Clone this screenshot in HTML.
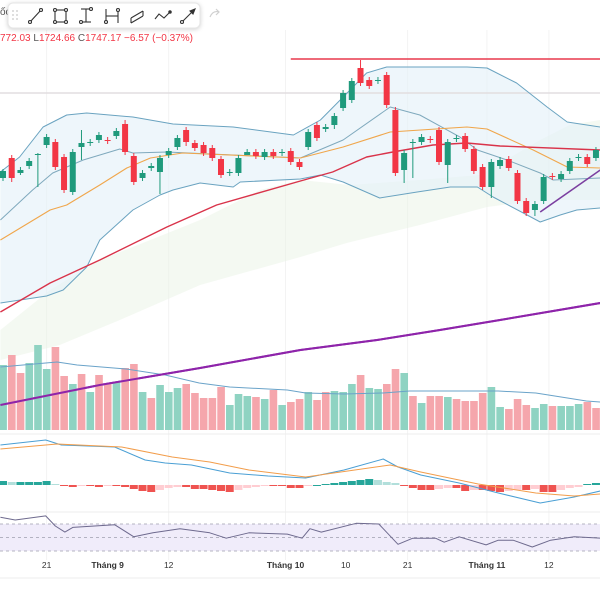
<!DOCTYPE html>
<html><head><meta charset="utf-8">
<style>
html,body{margin:0;padding:0;background:#fff;}
body{width:600px;height:600px;overflow:hidden;position:relative;font-family:"Liberation Sans",sans-serif;}
svg{position:absolute;left:0;top:0;}
</style></head>
<body>
<svg id="chart" width="600" height="600" viewBox="0 0 600 600">
<g id="grid"></g>
<g id="main"></g>
<g id="vol"></g>
<g id="macd"></g>
<g id="rsi"></g>
<g id="axis"></g>
<text x="0" y="15" font-size="10" fill="#555">ốc</text>
<text x="0" y="41" font-size="10" fill="#f23645">772.03 <tspan fill="#555">L</tspan>1724.66 <tspan fill="#555">C</tspan>1747.17 −6.57 (−0.37%)</text>
<g>
<rect x="8" y="3" width="192" height="25" rx="5" fill="#fff" stroke="#e6e6e6" style="filter:drop-shadow(0 1px 2px rgba(0,0,0,.18))"/>
<g fill="#c8c8c8"><circle cx="13" cy="11" r="0.9"/><circle cx="17" cy="11" r="0.9"/><circle cx="13" cy="15" r="0.9"/><circle cx="17" cy="15" r="0.9"/><circle cx="13" cy="19" r="0.9"/><circle cx="17" cy="19" r="0.9"/></g>
<g stroke="#333" stroke-width="1.1" fill="none">
<g><line x1="30" y1="22" x2="41" y2="10"/><circle cx="30" cy="22" r="1.5" fill="#fff"/><circle cx="41" cy="10" r="1.5" fill="#fff"/></g>
<g><rect x="55" y="10" width="11" height="12"/><circle cx="55" cy="10" r="1.5" fill="#fff"/><circle cx="66" cy="10" r="1.5" fill="#fff"/><circle cx="55" cy="22" r="1.5" fill="#fff"/><circle cx="66" cy="22" r="1.5" fill="#fff"/></g>
<g><line x1="86" y1="9" x2="86" y2="22"/><line x1="81" y1="9" x2="91" y2="9"/><line x1="81" y1="22" x2="91" y2="22"/><circle cx="81" cy="22" r="1.5" fill="#fff"/><circle cx="91" cy="9" r="1.5" fill="#fff"/></g>
<g><line x1="106" y1="9" x2="106" y2="23"/><line x1="118" y1="9" x2="118" y2="23"/><line x1="106" y1="16" x2="118" y2="16"/><circle cx="106" cy="22" r="1.5" fill="#fff"/><circle cx="118" cy="10" r="1.5" fill="#fff"/></g>
<g><path d="M131 18 L143 11 M131 23 L143 16 M131 18 L131 23 M143 11 L143 16"/></g>
<g><path d="M155 19 L159 14 L164 18 L170 12"/><circle cx="170" cy="12" r="1.2" fill="#333"/></g>
<g><line x1="182" y1="22" x2="194" y2="10"/><circle cx="182" cy="22" r="1.5" fill="#fff"/><path d="M190 11 L195 9 L193 14 Z" fill="#333"/></g>
</g>
</g>
<path d="M210 17 Q213 10 219 12 M216 9 L219 12 L216 15" stroke="#d0d0d0" stroke-width="1.2" fill="none"/>
</svg>
<script>
// ---- price data (OHLC) ----
const opens  = [1722,1742,1727,1734,1745,1755,1758,1743,1708,1753,1757,1760,1760,1764,1776,1744,1722,1732,1728,1745,1753,1770,1757,1755,1752,1741,1727,1727,1745,1748,1743,1748,1747,1749,1738,1753,1775,1771,1775,1792,1800,1832,1820,1819,1825,1790,1730,1757,1758,1761,1770,1735,1761,1764,1751,1733,1713,1734,1741,1727,1699,1690,1699,1724,1721,1729,1742,1743,1742];
const closes = [1729,1722,1730,1739,1746,1763,1733,1710,1748,1757,1758,1765,1759,1769,1748,1718,1727,1734,1742,1749,1762,1758,1752,1747,1742,1725,1728,1742,1748,1744,1748,1744,1748,1738,1733,1768,1762,1773,1784,1807,1819,1817,1814,1820,1795,1727,1747,1758,1763,1760,1738,1758,1762,1751,1729,1713,1738,1740,1732,1699,1687,1696,1723,1723,1726,1739,1743,1736,1750];
const highs  = [1731,1745,1733,1742,1747,1766,1761,1746,1751,1770,1761,1768,1763,1772,1780,1747,1730,1737,1745,1752,1765,1773,1760,1758,1755,1744,1731,1745,1751,1751,1751,1751,1751,1752,1741,1771,1778,1776,1787,1810,1822,1840,1823,1823,1828,1793,1750,1761,1766,1764,1773,1761,1765,1767,1754,1736,1741,1743,1744,1730,1702,1699,1726,1727,1729,1742,1746,1746,1753];
const lows   = [1719,1718,1725,1731,1713,1752,1730,1707,1705,1740,1754,1757,1756,1761,1745,1715,1719,1729,1706,1742,1750,1754,1749,1744,1739,1722,1724,1724,1745,1741,1740,1741,1744,1735,1730,1750,1759,1768,1771,1789,1797,1814,1811,1816,1792,1724,1717,1722,1755,1757,1735,1717,1758,1748,1726,1710,1702,1731,1729,1696,1684,1684,1696,1720,1718,1726,1739,1733,1739];
// ---- volume ----
const volumes = [65,75,57,67,85,61,83,54,46,56,38,55,47,48,62,66,38,32,45,38,42,46,37,32,32,43,25,36,34,33,31,40,25,28,31,38,30,38,39,38,46,55,42,41,46,61,57,34,27,34,34,33,31,29,29,37,43,23,21,31,25,22,26,24,24,24,26,28,22];
const volUp = [1,0,0,1,1,1,0,0,1,0,1,0,0,1,0,0,1,0,1,1,1,0,0,0,0,0,1,1,1,0,1,0,1,0,0,1,0,0,1,1,1,0,1,1,0,0,1,0,1,0,0,1,0,0,0,0,1,1,0,0,0,1,1,0,1,1,1,0,0];
const volMaIdx = [-0.3,6.2,8.5,14.1,18.6,22.5,26,32.6,34.7,39.1,43.6,46.6,56.8,61.1,66.9,68.5];
const volMaVal = [63,68,65,61,55,47,43,40,37,36,37,39,39,37,29,28];
// ---- indicator lines (index, value) ----
const bbUpIdx = [-0.3,1.9,4.6,7.3,9.6,14.9,19.5,26.4,33.3,36.4,39.8,41.7,44,53.2,55.5,58.9,62.4,64.7,68.5];
const bbUpVal = [1728,1743,1773,1785,1787,1783,1776,1773,1765,1780,1810,1827,1833,1833,1832,1817,1793,1778,1773];
const bbLoIdx = [-0.3,5,6.9,9.6,11.1,14.9,18,19.5,22.6,26.4,27.2,34.1,36.4,39,43.2,47.5,51.3,54.4,56.2,60.1,61.6,63.9,65.8,68.5];
const bbLoVal = [1597,1604,1610,1633,1660,1690,1705,1710,1717,1713,1718,1721,1725,1718,1702,1708,1713,1713,1703,1685,1678,1685,1690,1692];
const midIdx = [-0.3,3.4,5.7,9.2,13.4,14.9,18.8,34.1,39,44.4,47.8,52.4,54.4,57.8,61.6,63.1,68.5];
const midVal = [1680,1710,1727,1740,1751,1747,1748,1742,1760,1793,1785,1763,1750,1740,1727,1720,1722];
const maIdx = [-0.3,5.4,7.3,11.1,14.2,16.9,20.6,34.1,39,44.4,53.2,55.5,60.8,64.7,68.5];
const maVal = [1660,1690,1695,1715,1732,1742,1747,1742,1753,1768,1773,1771,1750,1733,1732];
const emaIdx = [-0.3,5.4,11.1,18.8,24.5,34.1,37.8,41.7,44.7,49.3,53.2,57,68.5];
const emaVal = [1588,1617,1640,1673,1695,1719,1728,1743,1748,1755,1757,1754,1750];
const longIdx = [-0.3,11.1,22.6,34.1,42.9,50.1,57,68.5];
const longVal = [1495,1515,1532,1550,1560,1570,1580,1597];
const cloudTopIdx = [-0.3,5.4,11.1,16.9,22.6,29.5,34.1,39.8,47.8,54.7,61.6,65,68.5];
const cloudTopVal = [1570,1610,1640,1660,1680,1710,1720,1715,1720,1725,1760,1775,1780];
const cloudBotIdx = [68.5,61.6,55.5,47.8,39.4,34.1,22.6,13.4,6.5,-0.3];
const cloudBotVal = [1700,1700,1693,1675,1657,1643,1615,1580,1555,1540];
const resistance = 1841, grayLevel = 1807;
const trendIdx = [61.6,68.5], trendVal = [1688,1730];
// ---- MACD ----
const macdIdx = [-0.3,4.9,6.7,12.8,16.3,18.6,21.6,26,30.4,34.7,39.1,43.6,45.3,47.9,52.3,56.8,61.6,65.5,68.5];
const macdVal = [40,45,40,38,25,22,20,12,9,7,15,26,18,10,2,-8,-18,-12,-6];
const sigIdx = [-0.3,6.2,13.6,19.4,23.7,28.2,34.7,44.4,47.9,54.5,61.1,65.5,68.5];
const sigVal = [36,41,38,28,23,15,8,20,13,1,-8,-11,-9];
const hist = [4,3,3,3,3,4,1,-1,-2,-1,-1,-2,-1,-1,-2,-4,-6,-7,-5,-3,-2,-2,-4,-4,-5,-6,-7,-5,-3,-2,-1,-1,-1,-3,-3,-1,0,1,2,3,4,5,6,5,3,2,-1,-3,-5,-5,-4,-3,-3,-6,-5,-5,-6,-7,-6,-5,-5,-4,-7,-7,-5,-3,-2,1,2];
// ---- RSI ----
const rsiIdx = [-0.3,1.4,4.9,6,7.1,8,12.8,15,17.2,20.3,23.7,25.6,28.2,32.6,34.3,35.2,36.5,40.5,43.1,45.3,47,49.6,50.6,52.3,55.4,56.8,58.5,60.7,62.8,65.5,68.5];
const rsiVal = [80,76,82,67,58,65,69,51,57,63,57,49,57,55,49,63,58,71,70,40,49,49,43,51,39,46,46,36,46,51,49];
// ---- axis ----
const tickIdx = [5,12,19,32.4,39.3,46.4,55.5,62.6];
const tickLabels = ["21","Tháng 9","12","Tháng 10","10","21","Tháng 11","12"];
const tickBold = [0,1,0,1,0,0,1,0];

const NS="http://www.w3.org/2000/svg";
function xS(i){return 3+8.72*i;}
function pY(p){return 1900-p;}
function vY(v){return 430-v;}
function mY(v){return 485-v;}
function rY(v){return 571.25-0.675*v;}
function mk(par,tag,at){const e=document.createElementNS(NS,tag);for(const k in at)e.setAttribute(k,at[k]);par.appendChild(e);return e;}
function pts(ix,vals,f){return ix.map((i,k)=>xS(i).toFixed(1)+","+f(vals[k]).toFixed(1)).join(" ");}

const G=document.getElementById('grid');
[5,19,32.4,46.4,55.5,62.6].forEach(i=>{const l=mk(G,'line',{x1:xS(i),x2:xS(i),y1:30,y2:560,stroke:'#f3f3f3','stroke-width':1});

});
[434,512,578].forEach(y=>{const l=mk(G,'line',{x1:0,x2:600,y1:y,y2:y,stroke:'#ececec'});

});

const M=document.getElementById('main');
let c=mk(M,'polygon',{points:pts(cloudTopIdx,cloudTopVal,pY)+" "+pts(cloudBotIdx,cloudBotVal,pY),fill:'#e9f4e6',opacity:0.5});


c=mk(M,'polygon',{points:pts(bbUpIdx,bbUpVal,pY)+" "+pts(bbLoIdx.slice().reverse(),bbLoVal.slice().reverse(),pY),fill:'#e3f0f8',opacity:0.6});


let gl=mk(M,'line',{x1:0,x2:600,y1:pY(grayLevel),y2:pY(grayLevel),stroke:'#e2dde0','stroke-width':1.5});


function pl(ix,v,f,col,w,name,par){const e=mk(par||M,'polyline',{points:pts(ix,v,f),fill:'none',stroke:col,'stroke-width':w,'stroke-linejoin':'round'});return e;}
let e;
e=pl(bbUpIdx,bbUpVal,pY,'#6aa3c0',1,'');


e=pl(bbLoIdx,bbLoVal,pY,'#6aa3c0',1,'');


e=pl(midIdx,midVal,pY,'#7fa9bd',1,'');


e=pl(maIdx,maVal,pY,'#f0a64b',1.1,'');


e=pl(emaIdx,emaVal,pY,'#d9334a',1.4,'');


e=pl(longIdx,longVal,pY,'#8e24aa',2,'');


e=mk(M,'line',{x1:xS(33),x2:600,y1:pY(resistance),y2:pY(resistance),stroke:'#e8394d','stroke-width':1.6});


e=pl(trendIdx,trendVal,pY,'#7b3fa0',1.6,'');



opens.forEach((o,i)=>{
  const up=closes[i]>=o, col=up?'#1f9a7c':'#f23645', x=xS(i);
  const g=mk(M,'g',{});
  
  
  mk(g,'line',{x1:x,x2:x,y1:pY(highs[i]),y2:pY(lows[i]),stroke:col,'stroke-width':1});
  const t=pY(Math.max(o,closes[i])),b=pY(Math.min(o,closes[i]));
  mk(g,'rect',{x:x-3,y:t,width:6,height:Math.max(1,b-t),fill:col});
});

const V=document.getElementById('vol');
volumes.forEach((v,i)=>{
  const r=mk(V,'rect',{x:xS(i)-3.7,y:vY(v),width:7.6,height:v,fill:volUp[i]?'#8fd3c2':'#f5a6ac'});
  
  
});
e=pl(volMaIdx,volMaVal,vY,'#6aa3c9',1,'',V);


e=pl(longIdx,longVal,pY,'#8e24aa',2,'',V);



const C=document.getElementById('macd');
hist.forEach((h,i)=>{
  const prev=i>0?hist[i-1]:0;
  let col;
  if(h>=0) col=h>=prev?'#26a69a':'#b2dfdb'; else col=h<=prev?'#ef5350':'#ffcdd2';
  const r=mk(C,'rect',{x:xS(i)-4,y:h>=0?mY(h):mY(0),width:8,height:Math.max(1,Math.abs(h)),fill:col});
  
  
});
e=pl(macdIdx,macdVal,mY,'#4a9fd4',1,'',C);


e=pl(sigIdx,sigVal,mY,'#f29d4b',1,'',C);



const R=document.getElementById('rsi');
e=mk(R,'rect',{x:0,y:rY(70),width:600,height:rY(30)-rY(70),fill:'#f0ecfa'});


[70,50,30].forEach(v=>{const l=mk(R,'line',{x1:0,x2:600,y1:rY(v),y2:rY(v),stroke:'#9e9eae','stroke-dasharray':'3,3','stroke-width':0.8});

});
e=pl(rsiIdx,rsiVal,rY,'#6e6a8e',1,'',R);



const A=document.getElementById('axis');
tickIdx.forEach((i,k)=>{
  const t=mk(A,'text',{x:xS(i),y:568,'font-size':8.5,'text-anchor':'middle',fill:'#333','font-weight':tickBold[k]?'bold':'normal'});
  t.textContent=tickLabels[k];
  
  
});
</script>
</body></html>
